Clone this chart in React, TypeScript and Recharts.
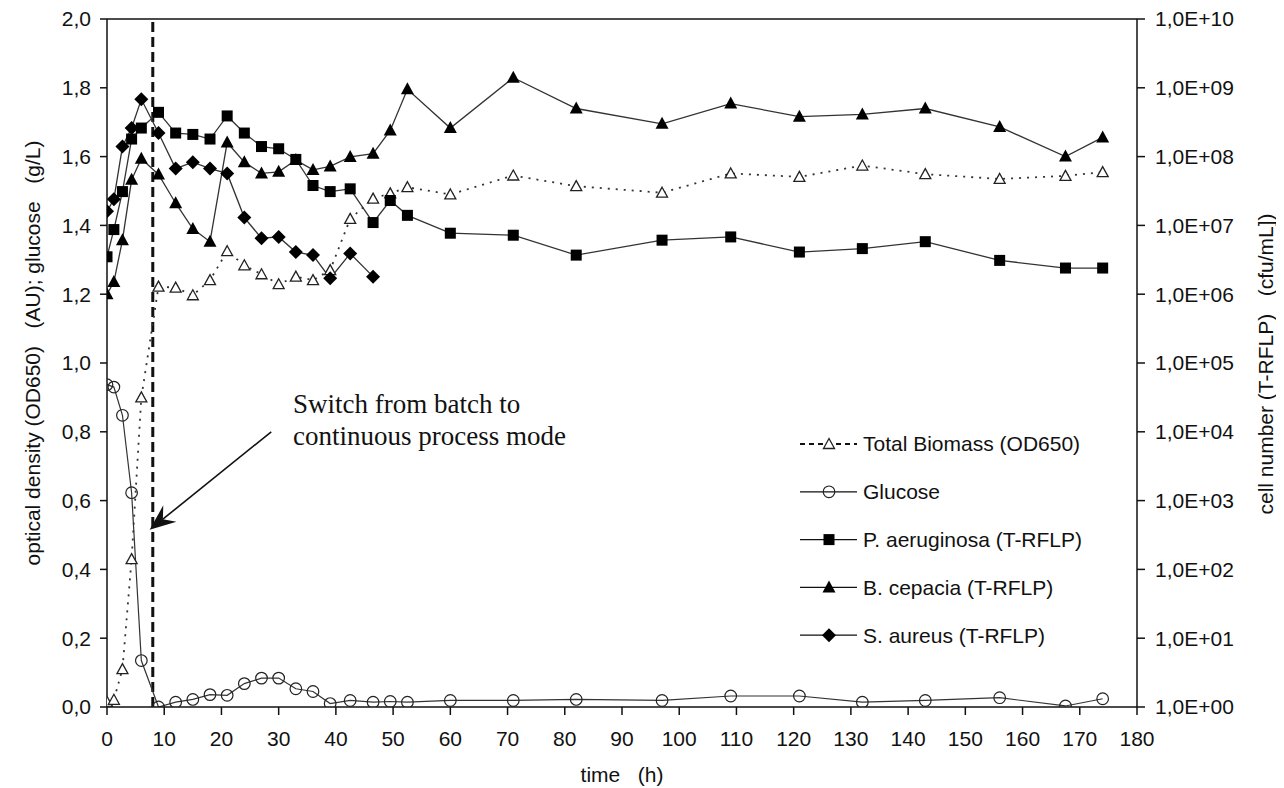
import React from "react";
import {
  ComposedChart,
  Line,
  XAxis,
  YAxis,
  ReferenceLine,
  Customized,
} from "recharts";

// sampling times (h)
const times = [0, 1.2, 2.7, 4.3, 6, 9, 12, 15, 18, 21, 24, 27, 30, 33, 36, 39, 42.5, 46.5, 49.5, 52.5, 60, 71, 82, 97, 109, 121, 132, 143, 156, 167.5, 174];

// left axis: OD650 (AU) and glucose (g/L)
const biomass = [0.015, 0.021, 0.11, 0.43, 0.9, 1.222, 1.219, 1.197, 1.241, 1.325, 1.284, 1.258, 1.229, 1.251, 1.241, 1.27, 1.419, 1.478, 1.493, 1.511, 1.49, 1.545, 1.514, 1.495, 1.551, 1.541, 1.574, 1.549, 1.535, 1.544, 1.555];
const glucose = [0.937, 0.93, 0.848, 0.623, 0.135, 0.0, 0.014, 0.022, 0.036, 0.034, 0.068, 0.084, 0.084, 0.053, 0.045, 0.01, 0.019, 0.014, 0.016, 0.014, 0.019, 0.019, 0.022, 0.019, 0.032, 0.032, 0.014, 0.019, 0.027, 0.003, 0.024];

// right axis: cell number (cfu/mL)
const pAeruginosa = [3.5e6, 8.7e6, 3.1e7, 1.8e8, 2.6e8, 4.4e8, 2.2e8, 2.1e8, 1.8e8, 3.9e8, 2.2e8, 1.4e8, 1.3e8, 9.1e7, 3.8e7, 3.1e7, 3.4e7, 1.1e7, 2.3e7, 1.4e7, 7.7e6, 7.2e6, 3.7e6, 6.1e6, 6.8e6, 4.1e6, 4.6e6, 5.8e6, 3.1e6, 2.4e6, 2.4e6];
const bCepacia = [1.0e6, 1.5e6, 6.1e6, 4.6e7, 9.3e7, 5.5e7, 2.1e7, 8.9e6, 5.8e6, 1.6e8, 8.3e7, 5.7e7, 6.0e7, 8.9e7, 6.4e7, 7.2e7, 9.9e7, 1.1e8, 2.4e8, 9.5e8, 2.6e8, 1.4e9, 5.0e8, 3.0e8, 5.9e8, 3.8e8, 4.1e8, 5.0e8, 2.7e8, 1.0e8, 1.9e8];
const sAureus = [1.6e7, 2.4e7, 1.4e8, 2.6e8, 6.8e8, 2.2e8, 6.7e7, 8.3e7, 6.7e7, 5.7e7, 1.3e7, 6.5e6, 6.8e6, 4.1e6, 3.7e6, 1.7e6, 3.9e6, 1.8e6];

const xTicks = [0, 10, 20, 30, 40, 50, 60, 70, 80, 90, 100, 110, 120, 130, 140, 150, 160, 170, 180];
const leftTicks = [0, 0.2, 0.4, 0.6, 0.8, 1.0, 1.2, 1.4, 1.6, 1.8, 2.0];
const rightTicks = [1, 1e1, 1e2, 1e3, 1e4, 1e5, 1e6, 1e7, 1e8, 1e9, 1e10];

const switchTime = 8;
const arrowFrom = { x: 28.7, y: 0.8 };
const arrowTo = { x: 7.45, y: 0.515 };

const data = times.map((t, i) => ({
  t,
  biomass: biomass[i],
  glucose: glucose[i],
  pa: pAeruginosa[i],
  bc: bCepacia[i],
  sa: i < sAureus.length ? sAureus[i] : null,
}));

const FONT = "'Liberation Sans', Arial, Helvetica, sans-serif";
const INK = "#111";
const LINE = "#333";

const OpenTriangle = ({ cx, cy }: any) => (
  <polygon
    points={`${cx},${cy - 5.5} ${cx + 5.5},${cy + 4.5} ${cx - 5.5},${cy + 4.5}`}
    fill="#fff"
    stroke="#222"
    strokeWidth={1.3}
  />
);
const OpenCircle = ({ cx, cy }: any) => (
  <circle cx={cx} cy={cy} r={5.8} fill="none" stroke="#222" strokeWidth={1.2} />
);
const Square = ({ cx, cy }: any) => (
  <rect x={cx - 5.5} y={cy - 5.5} width={11} height={11} fill="#000" />
);
const Triangle = ({ cx, cy }: any) => (
  <polygon points={`${cx},${cy - 7} ${cx + 6.5},${cy + 5} ${cx - 6.5},${cy + 5}`} fill="#000" />
);
const Diamond = ({ cx, cy }: any) => (
  <polygon points={`${cx},${cy - 7} ${cx + 7},${cy} ${cx},${cy + 7} ${cx - 7},${cy}`} fill="#000" />
);

const dotOf = (Shape: any) => (props: any) => {
  const { cx, cy, index } = props;
  if (cx == null || cy == null || props.value == null) return <g key={`e${index}`} />;
  return <Shape key={`d${index}`} cx={cx} cy={cy} />;
};

const ArrowShape = (props: any) => {
  const { x1, y1, x2, y2 } = props;
  if ([x1, y1, x2, y2].some((v) => v == null || isNaN(v))) return null;
  const dx = x2 - x1;
  const dy = y2 - y1;
  const len = Math.sqrt(dx * dx + dy * dy);
  const ux = dx / len;
  const uy = dy / len;
  const px = -uy;
  const py = ux;
  const headLen = 26;
  const headW = 10.5;
  const notch = 17;
  const bx = x2 - ux * headLen;
  const by = y2 - uy * headLen;
  const nx = x2 - ux * notch;
  const ny = y2 - uy * notch;
  return (
    <g>
      <line x1={x1} y1={y1} x2={nx} y2={ny} stroke={INK} strokeWidth={1.6} />
      <polygon
        points={`${x2},${y2} ${bx + px * headW},${by + py * headW} ${nx},${ny} ${bx - px * headW},${by - py * headW}`}
        fill={INK}
      />
    </g>
  );
};

const legendItems = [
  { label: "Total Biomass (OD650)", Shape: OpenTriangle, dash: "5 4", width: 2 },
  { label: "Glucose", Shape: OpenCircle, dash: undefined, width: 1.3 },
  { label: "P. aeruginosa (T-RFLP)", Shape: Square, dash: undefined, width: 1.3 },
  { label: "B. cepacia (T-RFLP)", Shape: Triangle, dash: undefined, width: 1.3 },
  { label: "S. aureus (T-RFLP)", Shape: Diamond, dash: undefined, width: 1.3 },
];

const Annotations = () => (
  <g>
    <text x={285} y={405} fontFamily="'Liberation Serif', 'Times New Roman', serif" fontSize={27} fill={INK}>
      Switch from batch to
    </text>
    <text x={285} y={437} fontFamily="'Liberation Serif', 'Times New Roman', serif" fontSize={27} fill={INK}>
      continuous process mode
    </text>
    {legendItems.map((it, i) => {
      const y = 436 + i * 47.8;
      return (
        <g key={it.label}>
          <line x1={792} y1={y} x2={849} y2={y} stroke={INK} strokeWidth={it.width} strokeDasharray={it.dash} />
          <it.Shape cx={821} cy={y} />
          <text x={855} y={y} dy="0.35em" fontFamily={FONT} fontSize={21} fill={INK}>
            {it.label}
          </text>
        </g>
      );
    })}
    <text
      x={614}
      y={767}
      dy="0.35em"
      textAnchor="middle"
      fontFamily={FONT}
      fontSize={21}
      fill={INK}
      style={{ whiteSpace: "pre" }}
    >
      {"time   (h)"}
    </text>
    <text
      transform="translate(25, 345) rotate(-90)"
      textAnchor="middle"
      dy="0.35em"
      fontFamily={FONT}
      fontSize={21}
      fill={INK}
      style={{ whiteSpace: "pre" }}
    >
      {"optical density (OD650)   (AU); glucose   (g/L)"}
    </text>
    <text
      transform="translate(1258, 356) rotate(-90)"
      textAnchor="middle"
      dy="0.35em"
      fontFamily={FONT}
      fontSize={21}
      fill={INK}
      style={{ whiteSpace: "pre" }}
    >
      {"cell number (T-RFLP)   (cfu/mL])"}
    </text>
  </g>
);

const fmtLeft = (v: number) => v.toFixed(1).replace(".", ",");
const fmtRight = (v: number) => {
  const e = Math.round(Math.log10(v));
  return `1,0E+${e < 10 ? "0" + e : e}`;
};

const tickStyle = { fontSize: 21, fill: INK, fontFamily: FONT };

export default function App() {
  return (
    <div style={{ width: 1268, height: 779, background: "#fff" }}>
      <ComposedChart
        width={1268}
        height={779}
        data={data}
        margin={{ top: 11, right: 0, left: 0, bottom: 0 }}
        style={{ fontFamily: FONT }}
      >
        <XAxis
          dataKey="t"
          type="number"
          domain={[0, 180]}
          ticks={xTicks}
          interval={0}
          height={80}
          tick={tickStyle}
          tickSize={8}
          tickMargin={16}
          stroke={INK}
          strokeWidth={1.5}
          allowDataOverflow
        />
        <YAxis
          yAxisId="left"
          domain={[0, 2]}
          ticks={leftTicks}
          interval={0}
          width={99}
          tick={tickStyle}
          tickFormatter={fmtLeft}
          tickSize={7}
          tickMargin={9}
          stroke={INK}
          strokeWidth={1.5}
          allowDataOverflow
        />
        <YAxis
          yAxisId="right"
          orientation="right"
          scale="log"
          domain={[1, 1e10]}
          ticks={rightTicks}
          interval={0}
          width={139}
          tick={tickStyle}
          tickFormatter={fmtRight}
          tickSize={8}
          tickMargin={10}
          stroke={INK}
          strokeWidth={1.5}
          allowDataOverflow
        />
        <ReferenceLine yAxisId="left" y={2} stroke={INK} strokeWidth={1.5} />
        <ReferenceLine yAxisId="left" x={switchTime} stroke={INK} strokeWidth={3} strokeDasharray="10 5" />
        <ReferenceLine yAxisId="left" segment={[arrowFrom, arrowTo]} shape={ArrowShape} ifOverflow="visible" />
        <Line
          yAxisId="left"
          dataKey="biomass"
          stroke={LINE}
          strokeWidth={1.8}
          strokeDasharray="2 6"
          dot={dotOf(OpenTriangle)}
          activeDot={false}
          isAnimationActive={false}
        />
        <Line
          yAxisId="left"
          dataKey="glucose"
          stroke={LINE}
          strokeWidth={1.2}
          dot={dotOf(OpenCircle)}
          activeDot={false}
          isAnimationActive={false}
        />
        <Line
          yAxisId="right"
          dataKey="pa"
          stroke={LINE}
          strokeWidth={1.3}
          dot={dotOf(Square)}
          activeDot={false}
          isAnimationActive={false}
        />
        <Line
          yAxisId="right"
          dataKey="bc"
          stroke={LINE}
          strokeWidth={1.3}
          dot={dotOf(Triangle)}
          activeDot={false}
          isAnimationActive={false}
        />
        <Line
          yAxisId="right"
          dataKey="sa"
          stroke={LINE}
          strokeWidth={1.3}
          dot={dotOf(Diamond)}
          activeDot={false}
          isAnimationActive={false}
        />
        <Customized component={Annotations} />
      </ComposedChart>
    </div>
  );
}
